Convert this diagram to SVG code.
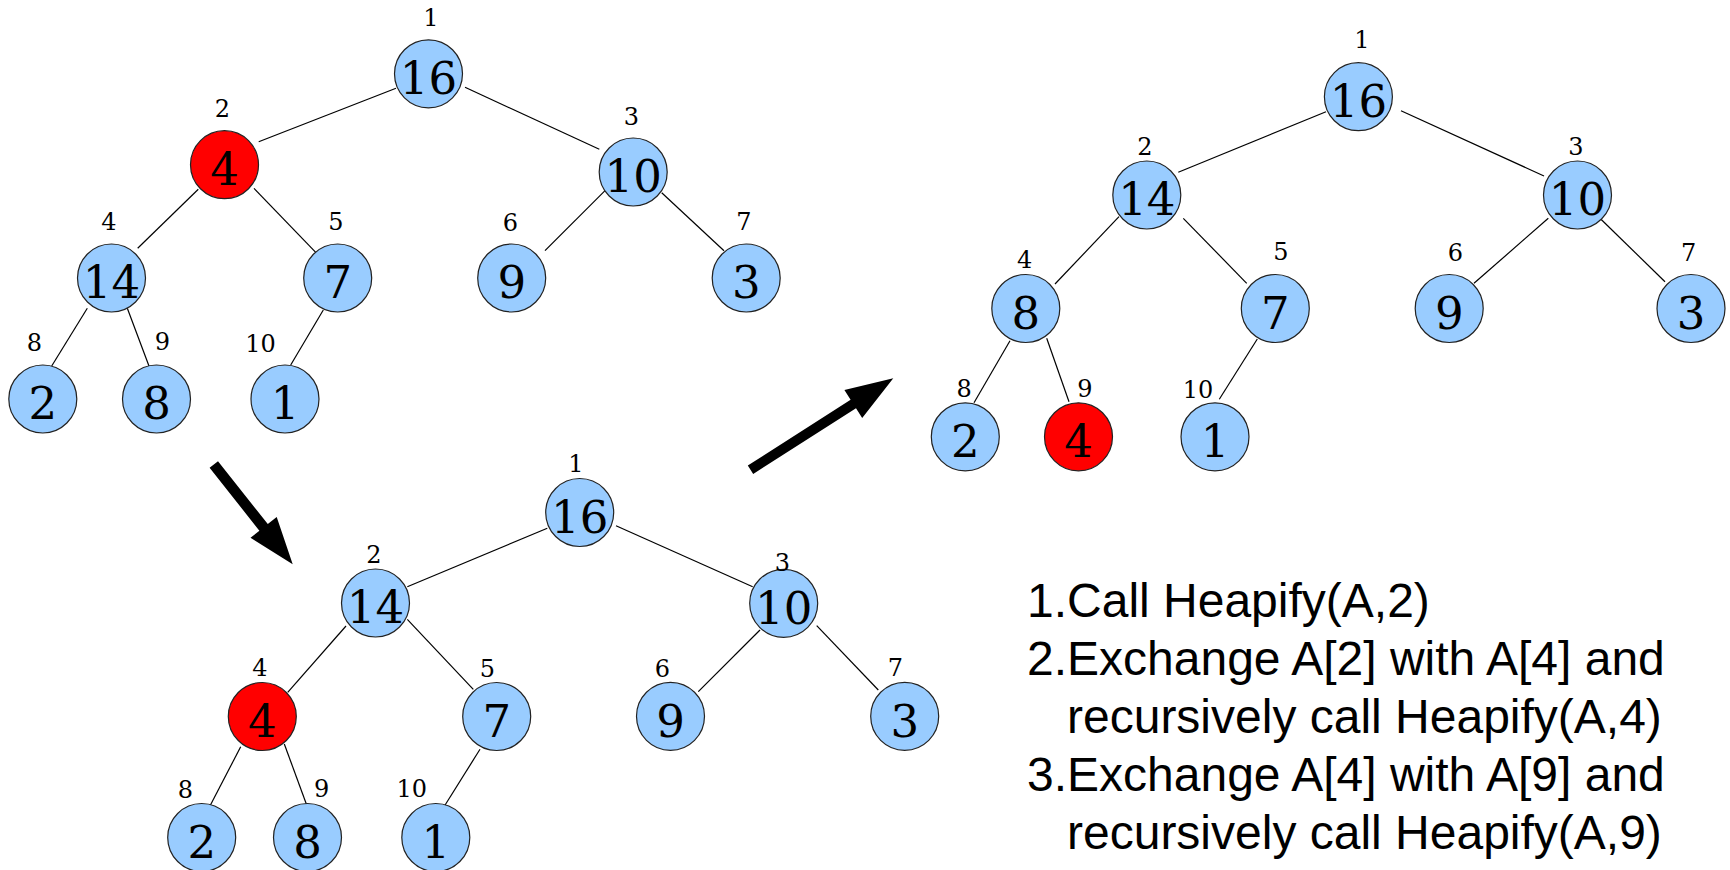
<svg xmlns="http://www.w3.org/2000/svg" width="1730" height="870" viewBox="0 0 1730 870">
<style>
.edge{stroke:#000;stroke-width:1.2;fill:none}
.node{fill:#99ccff;stroke:#222;stroke-width:1.2}
.hot{fill:#ff0000;stroke:#222;stroke-width:1.2}
.val{font-family:"DejaVu Serif","Liberation Serif",serif;font-size:45px;text-anchor:middle;fill:#000}
.idx{font-family:"DejaVu Serif","Liberation Serif",serif;font-size:24px;text-anchor:middle;fill:#000}
.step{font-family:"Liberation Sans",Arial,sans-serif;font-size:48px;fill:#000}
.arrow{fill:#000}
</style>
<rect width="1730" height="870" fill="#fff"/>
<g id="connectors">
<line class="edge" x1="396" y1="88.3" x2="258.7" y2="141.7"/>
<line class="edge" x1="465" y1="87.3" x2="599.3" y2="149.3"/>
<line class="edge" x1="198.3" y1="189.3" x2="137.7" y2="248.3"/>
<line class="edge" x1="254" y1="188.3" x2="316.7" y2="253.3"/>
<line class="edge" x1="608.3" y1="187.3" x2="545" y2="250.7"/>
<line class="edge" x1="661.7" y1="192.7" x2="724" y2="250.7"/>
<line class="edge" x1="87.3" y1="308.3" x2="51.7" y2="366"/>
<line class="edge" x1="127.3" y1="308.3" x2="149" y2="366"/>
<line class="edge" x1="323.3" y1="310" x2="290.7" y2="365"/>
<line class="edge" x1="547.3" y1="528.3" x2="407.3" y2="586.7"/>
<line class="edge" x1="616" y1="525.7" x2="752.7" y2="586.7"/>
<line class="edge" x1="346" y1="626" x2="287.7" y2="692.3"/>
<line class="edge" x1="407.3" y1="619.3" x2="473.3" y2="689.3"/>
<line class="edge" x1="760" y1="630" x2="698.3" y2="691.7"/>
<line class="edge" x1="816.7" y1="625.7" x2="878.3" y2="690"/>
<line class="edge" x1="240.7" y1="746.7" x2="209.3" y2="807.3"/>
<line class="edge" x1="284.3" y1="744" x2="306.7" y2="805"/>
<line class="edge" x1="480" y1="749.3" x2="444" y2="806.7"/>
<line class="edge" x1="1326" y1="111.7" x2="1178.3" y2="172.3"/>
<line class="edge" x1="1401" y1="110.7" x2="1544" y2="176"/>
<line class="edge" x1="1119" y1="216.7" x2="1055" y2="284"/>
<line class="edge" x1="1183.3" y1="218.3" x2="1246.7" y2="283.3"/>
<line class="edge" x1="1548.3" y1="218.3" x2="1474" y2="283.3"/>
<line class="edge" x1="1600.7" y1="219" x2="1665" y2="281.7"/>
<line class="edge" x1="1010" y1="340.7" x2="974" y2="402.7"/>
<line class="edge" x1="1046.7" y1="338.3" x2="1069" y2="401.7"/>
<line class="edge" x1="1257.3" y1="339" x2="1219.3" y2="399.3"/>
</g>
<g id="arrows">
<polygon class="arrow" points="218,461.2 267.8,524.1 276.7,517 292.7,564.3 250.5,537.8 259.4,530.7 209.6,467.8"/>
<polygon class="arrow" points="753.2,473.9 856,408.2 862.2,417.9 893.3,378.3 844.4,390.1 850.6,399.8 747.8,465.5"/>
</g>
<!-- Tree 1 -->
<g id="t1-n1"><circle class="node" cx="428.5" cy="73.8" r="34"/><text class="val" x="428.5" y="94">16</text><text class="idx" x="431" y="26">1</text></g>
<g id="t1-n2"><circle class="hot" cx="224.5" cy="164.7" r="34"/><text class="val" x="224.5" y="185">4</text><text class="idx" x="222.5" y="117">2</text></g>
<g id="t1-n3"><circle class="node" cx="633.2" cy="172" r="34"/><text class="val" x="633.2" y="192.2">10</text><text class="idx" x="631.3" y="125">3</text></g>
<g id="t1-n4"><circle class="node" cx="111.5" cy="278" r="34"/><text class="val" x="111.5" y="298.2">14</text><text class="idx" x="109" y="230">4</text></g>
<g id="t1-n5"><circle class="node" cx="337.7" cy="278" r="34"/><text class="val" x="337.7" y="298.2">7</text><text class="idx" x="336" y="230">5</text></g>
<g id="t1-n6"><circle class="node" cx="511.7" cy="278" r="34"/><text class="val" x="511.7" y="298.2">9</text><text class="idx" x="510.5" y="231">6</text></g>
<g id="t1-n7"><circle class="node" cx="746.2" cy="278" r="34"/><text class="val" x="746.2" y="298.2">3</text><text class="idx" x="744" y="230">7</text></g>
<g id="t1-n8"><circle class="node" cx="42.8" cy="399" r="34"/><text class="val" x="42.8" y="419.2">2</text><text class="idx" x="34.3" y="351">8</text></g>
<g id="t1-n9"><circle class="node" cx="156.5" cy="399" r="34"/><text class="val" x="156.5" y="419.2">8</text><text class="idx" x="162.5" y="350">9</text></g>
<g id="t1-n10"><circle class="node" cx="285" cy="399" r="34"/><text class="val" x="285" y="419.2">1</text><text class="idx" x="260.5" y="352">10</text></g>
<!-- Tree 2 -->
<g id="t2-n1"><circle class="node" cx="579.7" cy="512.5" r="34"/><text class="val" x="579.7" y="532.7">16</text><text class="idx" x="576" y="471.7">1</text></g>
<g id="t2-n2"><circle class="node" cx="375.5" cy="603" r="34"/><text class="val" x="375.5" y="623.2">14</text><text class="idx" x="374" y="562.7">2</text></g>
<g id="t2-n3"><circle class="node" cx="783.7" cy="603.3" r="34"/><text class="val" x="783.7" y="623.5">10</text><text class="idx" x="782.5" y="571">3</text></g>
<g id="t2-n4"><circle class="hot" cx="262.3" cy="716.5" r="34"/><text class="val" x="262.3" y="736.7">4</text><text class="idx" x="260" y="675.5">4</text></g>
<g id="t2-n5"><circle class="node" cx="496.7" cy="716.5" r="34"/><text class="val" x="496.7" y="736.7">7</text><text class="idx" x="487.5" y="677">5</text></g>
<g id="t2-n6"><circle class="node" cx="670.5" cy="716.3" r="34"/><text class="val" x="670.5" y="736.5">9</text><text class="idx" x="662.3" y="676.7">6</text></g>
<g id="t2-n7"><circle class="node" cx="904.7" cy="716.3" r="34"/><text class="val" x="904.7" y="736.5">3</text><text class="idx" x="895.3" y="676">7</text></g>
<g id="t2-n8"><circle class="node" cx="201.7" cy="837.5" r="34"/><text class="val" x="201.7" y="857.7">2</text><text class="idx" x="185.5" y="798">8</text></g>
<g id="t2-n9"><circle class="node" cx="307.5" cy="837.5" r="34"/><text class="val" x="307.5" y="857.7">8</text><text class="idx" x="321.7" y="797">9</text></g>
<g id="t2-n10"><circle class="node" cx="435.8" cy="837.5" r="34"/><text class="val" x="435.8" y="857.7">1</text><text class="idx" x="411.7" y="797">10</text></g>
<!-- Tree 3 -->
<g id="t3-n1"><circle class="node" cx="1358.4" cy="96.7" r="34"/><text class="val" x="1358.4" y="116.9">16</text><text class="idx" x="1362" y="48.3">1</text></g>
<g id="t3-n2"><circle class="node" cx="1146.8" cy="195" r="34"/><text class="val" x="1146.8" y="215.2">14</text><text class="idx" x="1145" y="155">2</text></g>
<g id="t3-n3"><circle class="node" cx="1577.5" cy="195" r="34"/><text class="val" x="1577.5" y="215.2">10</text><text class="idx" x="1576" y="155">3</text></g>
<g id="t3-n4"><circle class="node" cx="1025.8" cy="308.5" r="34"/><text class="val" x="1025.8" y="328.7">8</text><text class="idx" x="1024.7" y="267.7">4</text></g>
<g id="t3-n5"><circle class="node" cx="1275.3" cy="308.5" r="34"/><text class="val" x="1275.3" y="328.7">7</text><text class="idx" x="1281" y="260">5</text></g>
<g id="t3-n6"><circle class="node" cx="1449.2" cy="308.5" r="34"/><text class="val" x="1449.2" y="328.7">9</text><text class="idx" x="1455.3" y="260.7">6</text></g>
<g id="t3-n7"><circle class="node" cx="1691" cy="308.5" r="34"/><text class="val" x="1691" y="328.7">3</text><text class="idx" x="1688.7" y="261">7</text></g>
<g id="t3-n8"><circle class="node" cx="965.3" cy="436.8" r="34"/><text class="val" x="965.3" y="457">2</text><text class="idx" x="964.2" y="396.7">8</text></g>
<g id="t3-n9"><circle class="hot" cx="1078.5" cy="436.8" r="34"/><text class="val" x="1078.5" y="457">4</text><text class="idx" x="1085" y="397">9</text></g>
<g id="t3-n10"><circle class="node" cx="1215" cy="436.8" r="34"/><text class="val" x="1215" y="457">1</text><text class="idx" x="1198" y="397.7">10</text></g>
<g id="steps">
<text class="step" x="1027" y="617">1.Call Heapify(A,2)</text>
<text class="step" x="1027" y="675">2.Exchange A[2] with A[4] and</text>
<text class="step" x="1067" y="733">recursively call Heapify(A,4)</text>
<text class="step" x="1027" y="791">3.Exchange A[4] with A[9] and</text>
<text class="step" x="1067" y="849">recursively call Heapify(A,9)</text>
</g>
</svg>
